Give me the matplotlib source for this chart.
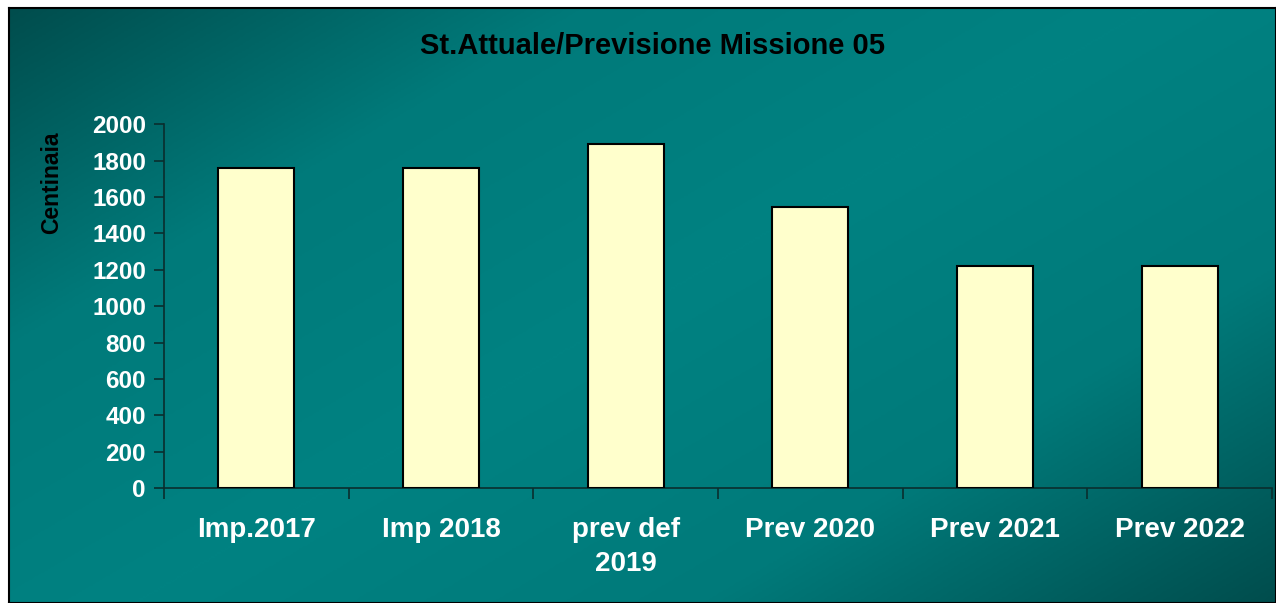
import numpy as np
import matplotlib
matplotlib.use('Agg')
import matplotlib.pyplot as plt
from matplotlib.colors import LinearSegmentedColormap

categories = ['Imp.2017', 'Imp 2018', 'prev def\n2019', 'Prev 2020', 'Prev 2021', 'Prev 2022']
values = [1757, 1757, 1890, 1543, 1222, 1222]
yticks = [0, 200, 400, 600, 800, 1000, 1200, 1400, 1600, 1800, 2000]

plt.rcParams['font.family'] = ['Liberation Sans', 'DejaVu Sans']
plt.rcParams['font.weight'] = 'bold'

W, H = 1276, 603
fig = plt.figure(figsize=(W / 100, H / 100), dpi=100)
fig.patch.set_facecolor('white')

# gradient background: dark corners, lighter diagonal band
bg = fig.add_axes([9 / W, 0, (W - 9) / W, (H - 8) / H])
ny, nx = 300, 600
xx, yy = np.meshgrid(np.linspace(0, 1, nx), np.linspace(0, 1, ny))
t = (xx * 0.75 + yy * 0.6) / 1.35
g = 1 - np.abs(t - 0.5) * 2
cmap = LinearSegmentedColormap.from_list('teal', ['#004d4d', '#007a7a', '#008282'])
bg.imshow(g, cmap=cmap, aspect='auto', extent=[0, 1, 0, 1], interpolation='bilinear')
bg.set_xticks([])
bg.set_yticks([])
for s in bg.spines.values():
    s.set_color('black')
    s.set_linewidth(1.5)

ax = fig.add_axes([164 / W, 1 - 488 / H, (1272 - 164) / W, (488 - 124.3) / H])
ax.patch.set_alpha(0)
x = np.arange(len(categories))
ax.bar(x, values, width=0.41, color='#ffffcc', edgecolor='black', linewidth=1.5, zorder=3)

ax.set_xlim(-0.5, len(categories) - 0.5)
ax.set_ylim(0, 2000)
ax.set_yticks(yticks)
ax.set_yticklabels([str(v) for v in yticks], color='white', fontsize=17.5, fontweight='bold')
ax.set_xticks(x)
ax.set_xticklabels(categories, color='white', fontsize=20, fontweight='bold', linespacing=1.4)
ax.tick_params(axis='x', which='major', length=0, pad=21)
ax.set_xticks(np.arange(len(categories) + 1) - 0.5, minor=True)
ax.tick_params(axis='x', which='minor', length=8, width=1.2, color='#0a2e2e', direction='out')
ax.tick_params(axis='y', length=7, width=1.2, color='#0a2e2e', pad=6)
for side in ['top', 'right']:
    ax.spines[side].set_visible(False)
for side in ['left', 'bottom']:
    ax.spines[side].set_color('#0a2e2e')
    ax.spines[side].set_linewidth(1.2)

ax.set_ylabel('Centinaia', fontsize=16.5, fontweight='bold', color='black')
ax.yaxis.set_label_coords(-0.091, 0.84)

fig.text(652 / W, 1 - 46 / H, 'St.Attuale/Previsione Missione 05', ha='center', va='center',
         fontsize=21, fontweight='bold', color='black')

fig.savefig('out.png', dpi=100)
